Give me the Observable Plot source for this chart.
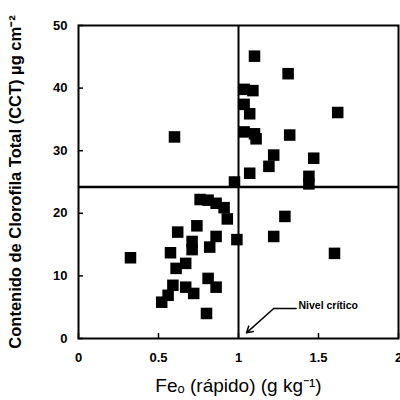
<!DOCTYPE html>
<html>
<head>
<meta charset="utf-8">
<script src="https://cdn.jsdelivr.net/npm/d3@7"></script>
<script src="https://cdn.jsdelivr.net/npm/@observablehq/plot@0.6"></script>
<style>
  html, body { margin: 0; padding: 0; background: #fff; }
  #chart svg { display: block; font-family: "Liberation Sans", Arial, sans-serif; }
</style>
</head>
<body>
<div id="chart"></div>
<script>
// Fe_o (rápido) values, g kg-1
const feValues = [
  1.10, 1.31, 1.035, 1.09, 1.62, 0.60, 1.035, 1.07, 1.035, 1.10, 1.11,
  1.32, 1.22, 1.19, 1.47, 1.07, 1.44, 1.44, 0.975,
  1.29, 1.22, 1.60, 0.99,
  0.76, 0.81, 0.86, 0.91, 0.93, 0.74, 0.62, 0.71, 0.71, 0.86, 0.82,
  0.325, 0.575, 0.67, 0.61, 0.59, 0.67, 0.72, 0.52, 0.56, 0.81, 0.86, 0.80
];
// Contenido de clorofila total (CCT), µg cm-2
const cctValues = [
  45.1, 42.3, 39.8, 39.6, 36.1, 32.2, 37.4, 35.9, 33.0, 32.7, 31.9,
  32.5, 29.3, 27.5, 28.8, 26.4, 25.9, 24.7, 25.0,
  19.5, 16.3, 13.6, 15.8,
  22.2, 22.1, 21.6, 20.9, 19.1, 18.0, 17.0, 15.5, 14.2, 16.3, 14.6,
  12.9, 13.7, 12.0, 11.2, 8.5, 8.2, 7.2, 5.8, 6.9, 9.6, 8.2, 4.0
];
const xTicks = [0, 0.5, 1, 1.5, 2];
const yTicks = [0, 10, 20, 30, 40, 50];
const criticalFe = [1];
const criticalCct = [24.2];
const annotationText = ["Nivel crítico"];
const annotationX = [1.375];
const annotationY = [5.3];
const leaderX = [1.36, 1.22];
const leaderY = [4.8, 4.8];
const arrowFrom = [{x: 1.22, y: 4.8}];
const arrowTo = [{x: 1.05, y: 0.9}];
const xLabel = "Feₒ (rápido) (g kg⁻¹)";
const yLabel = "Contenido de Clorofila Total (CCT) µg cm⁻²";

const points = feValues.map((x, i) => ({x, y: cctValues[i]}));
const arrowData = arrowFrom.map((d, i) => ({x1: d.x, y1: d.y, x2: arrowTo[i].x, y2: arrowTo[i].y}));

const chart = Plot.plot({
  width: 400,
  height: 400,
  marginLeft: 78,
  marginRight: 2,
  marginTop: 25,
  marginBottom: 62,
  x: {domain: [0, 2]},
  y: {domain: [0, 50]},
  marks: [
    Plot.axisX({ticks: xTicks, tickSize: -5, tickPadding: 19, tickFormat: d => String(d),
      fontSize: 13, fontWeight: "bold", label: null, strokeWidth: 1.5}),
    Plot.axisY({ticks: yTicks, tickSize: -5, tickPadding: 16, tickFormat: d => String(d),
      fontSize: 13, fontWeight: "bold", label: null, strokeWidth: 1.5}),
    Plot.ruleX(criticalFe, {stroke: "#000", strokeWidth: 2}),
    Plot.ruleY(criticalCct, {stroke: "#000", strokeWidth: 2.5}),
    Plot.frame({stroke: "#000", strokeWidth: 2}),
    Plot.dot(points, {x: "x", y: "y", symbol: "square", r: 6.5, fill: "#000", stroke: "none"}),
    Plot.line(leaderX.map((x, i) => ({x, y: leaderY[i]})), {x: "x", y: "y", stroke: "#000", strokeWidth: 1.5}),
    Plot.arrow(arrowData, {x1: "x1", y1: "y1", x2: "x2", y2: "y2", stroke: "#000", strokeWidth: 1.5, headLength: 7}),
    Plot.text(annotationText, {x: annotationX, y: annotationY, text: d => d, textAnchor: "start",
      fontSize: 10.5, fontWeight: "bold", fill: "#000"}),
    Plot.text([xLabel], {frameAnchor: "bottom", dy: 53, text: d => d, fontSize: 19, textAnchor: "middle", fill: "#000"}),
    Plot.text([yLabel], {frameAnchor: "left", dx: -63, rotate: -90, text: d => d, fontSize: 16.5,
      fontWeight: "bold", textAnchor: "middle", fill: "#000"})
  ]
});
document.getElementById("chart").appendChild(chart);
</script>
</body>
</html>
